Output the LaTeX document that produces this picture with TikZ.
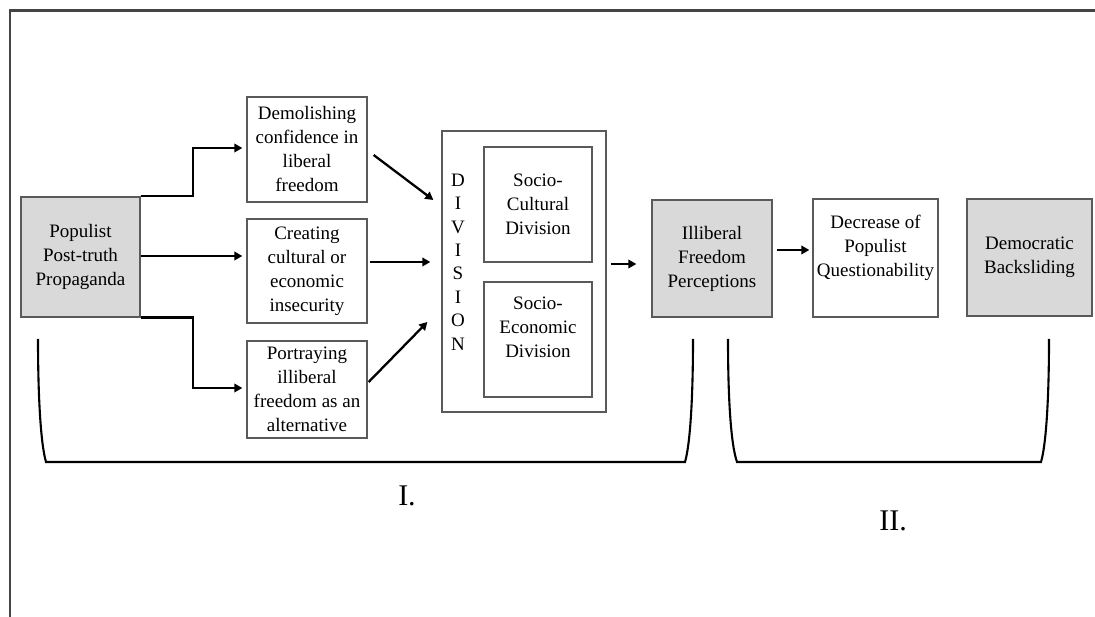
\documentclass[tikz,border=0pt]{standalone}
\usepackage{fontspec}
\setmainfont{Liberation Serif}
\usetikzlibrary{arrows.meta,calc}
\definecolor{boxfill}{HTML}{D9D9D9}
\definecolor{boxline}{HTML}{5A5A5A}
\definecolor{frameline}{HTML}{444444}
\begin{document}
\begin{tikzpicture}[x=1pt,y=-1pt,
  box/.style={draw=boxline, line width=1.3pt, align=center, inner sep=0pt,
    font=\fontsize{19}{24}\selectfont},
  grey/.style={box, fill=boxfill},
  arr/.style={line width=2.3pt, -{Triangle[length=8pt,width=8.5pt]}},
  brk/.style={line width=2.1pt, black},
  roman/.style={font=\fontsize{30}{30}\selectfont, anchor=base, inner sep=0pt}]
\useasboundingbox (0,0) rectangle (1095,617);
% frame
\draw[line width=2.2pt, draw=frameline] (10,617) -- (10,10.5) -- (1095,10.5);
% boxes
\node[grey, minimum width=119pt, minimum height=120pt] (pop) at (80.5,257) {Populist\\Post-truth\\Propaganda};
\node[box, minimum width=120pt, minimum height=105pt] (dem) at (307,149.5) {Demolishing\\confidence in\\liberal\\freedom};
\node[box, minimum width=120pt, minimum height=104pt] (cre) at (307,271) {Creating\\cultural or\\economic\\insecurity};
\node[box, minimum width=120pt, minimum height=97pt] (por) at (307,389.5) {Portraying\\illiberal\\freedom as an\\alternative};
\node[box, minimum width=164pt, minimum height=281pt] (div) at (524,271.5) {};
\node[box, font=\fontsize{19}{23.4}\selectfont, draw=none] (divlbl) at (458,262) {D\\I\\V\\I\\S\\I\\O\\N};
\node[box, minimum width=108pt, minimum height=115pt] (soc) at (538,204.5) {Socio-\\Cultural\\Division};
\node[box, minimum width=108pt, minimum height=115pt] (eco) at (538,339.5) {Socio-\\Economic\\Division\\\mbox{}};
\node[grey, minimum width=120pt, minimum height=117pt] (ill) at (712,258.5) {Illiberal\\Freedom\\Perceptions};
\node[box, minimum width=125pt, minimum height=118pt] (dec) at (875.5,258) {Decrease of\\Populist\\Questionability\\\mbox{}};
\node[grey, minimum width=125pt, minimum height=117pt] (dbs) at (1029.5,257.5) {Democratic\\Backsliding};
% connectors
\draw[arr] (pop.north east) -- ++(52,0) |- ($(dem.west)+(-4,-1.5)$);
\draw[arr] ($(pop.east)+(0,-1)$) -- ($(pop.east -| cre.west)+(-4,-1)$);
\draw[arr] (pop.south east) -- ++(52,0) |- ($(por.west)+(-4,-1.5)$);
\draw[arr] ($(dem.east)+(6,5.5)$) -- ($(div.west)+(-8,-71.5)$);
\draw[arr] ($(cre.east)+(2,-9)$) -- ($(div.west)+(-11,-9.5)$);
\draw[arr] ($(por.east)+(1,-7.5)$) -- ($(div.west)+(-14,50.5)$);
\draw[arr] ($(div.east)+(4,-7.5)$) -- ($(ill.west)+(-15,5.5)$);
\draw[arr] ($(ill.east)+(4,-8.5)$) -- ($(dec.west)+(-3,-8)$);
% brackets
\draw[brk] (38,339) .. controls (38,400) and (41,445) .. (46,462) -- (685,462)
  .. controls (690,445) and (693,400) .. (693,339);
\draw[brk] (728,339) .. controls (728,400) and (731,445) .. (737,462) -- (1041,462)
  .. controls (1046,445) and (1049,400) .. (1049,339);
% labels
\node[roman] (l1) at (407,505) {I.};
\node[roman] (l2) at (893,530) {II.};
\end{tikzpicture}
\end{document}
